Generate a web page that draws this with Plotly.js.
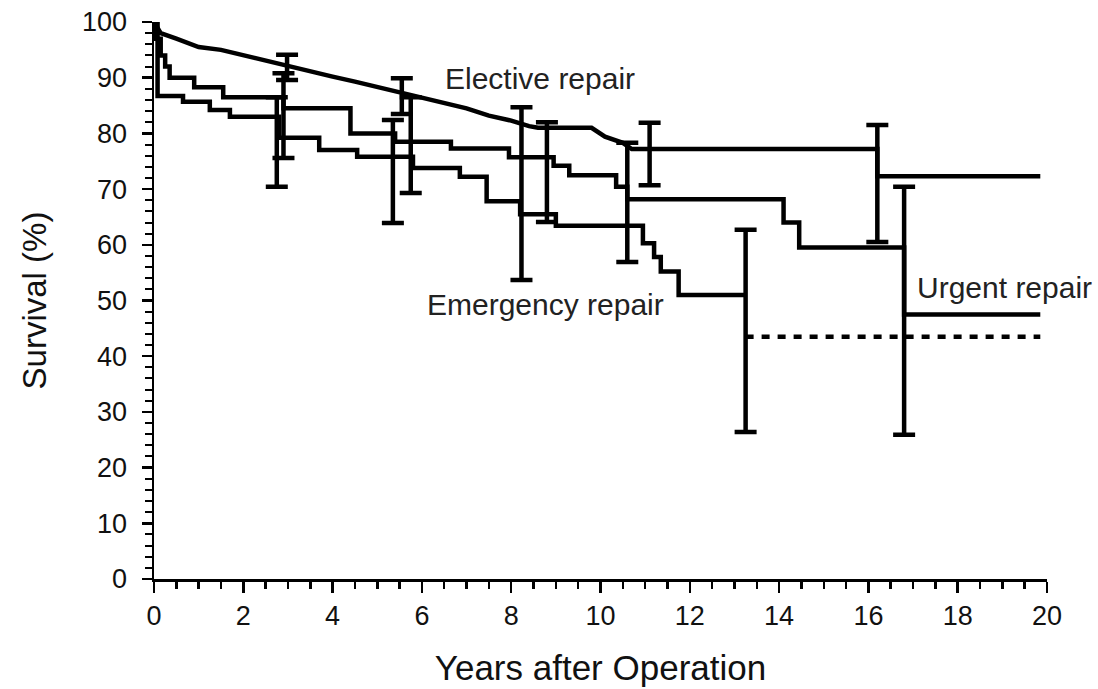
<!DOCTYPE html>
<html>
<head>
<meta charset="utf-8">
<script src="https://cdn.plot.ly/plotly-3.0.1.min.js"></script>
<style>html,body{margin:0;padding:0;background:#fff;}#chart{width:1098px;height:689px;}</style>
</head>
<body>
<div id="chart"></div>
<script>
// Elective repair (fine-grained Kaplan-Meier, drawn as a line through read points)
var electiveX = [0, 0.15, 0.5, 1, 1.5, 2, 2.5, 3, 3.5, 4, 4.5, 5, 5.5, 6, 6.5, 7, 7.5, 8, 8.4, 8.6, 9.8, 10.1, 10.5, 10.7, 16.2, 16.2, 19.85];
var electiveY = [100, 98, 97, 95.5, 95, 94, 93, 92, 91.2, 90.2, 89.3, 88.3, 87.3, 86.4, 85.5, 84.5, 83.2, 82.3, 81.3, 81, 81, 79.4, 78.3, 77.2, 77.2, 72.3, 72.3];

// Urgent repair (step function)
var urgentX = [0, 0.05, 0.15, 0.25, 0.35, 0.9, 1.55, 2.9, 4.4, 5.4, 6.65, 7.95, 8.95, 9.3, 10.35, 10.6, 14.1, 14.45, 16.8, 19.85];
var urgentY = [100, 97, 94, 92, 90, 88.3, 86.5, 84.5, 80, 78.5, 77.3, 75.7, 74.2, 72.5, 70.4, 68.2, 64, 59.5, 47.5, 47.5];

// Emergency repair (step function)
var emergencyX = [0, 0.08, 0.65, 1.25, 1.7, 2.8, 3.7, 4.55, 5.8, 6.85, 7.45, 8.2, 9.0, 10.95, 11.2, 11.35, 11.75, 13.25];
var emergencyY = [100, 86.7, 85.7, 84.2, 83, 79.2, 77, 75.8, 73.8, 72.2, 67.8, 65.5, 63.4, 60.3, 57.8, 55.2, 51, 51];

// Emergency continuation (dotted)
var emergencyTailX = [13.25, 19.85];
var emergencyTailY = [43.5, 43.5];

// Confidence intervals (x, lower, upper)
var ciX  = [2.98, 5.55, 11.1, 16.2, 2.9, 5.75, 8.8, 10.6, 16.8, 2.75, 5.35, 8.23, 13.25];
var ciLo = [89.6, 83.5, 70.7, 60.5, 75.6, 69.3, 64.1, 56.9, 25.9, 70.4, 63.9, 53.7, 26.4];
var ciHi = [94.1, 89.9, 81.9, 81.5, 90.8, 86.5, 82.0, 78.3, 70.4, 86.5, 82.4, 84.7, 62.7];

var xTicks = [0, 2, 4, 6, 8, 10, 12, 14, 16, 18, 20];
var yTicks = [0, 10, 20, 30, 40, 50, 60, 70, 80, 90, 100];

var labelText = ["Elective repair", "Emergency repair", "Urgent repair"];
var labelX = [8.65, 8.76, 19.05];
var labelY = [89.9, 49.2, 52.4];

var ciMid = ciX.map(function(_, i){ return (ciLo[i] + ciHi[i]) / 2; });
var ciHalf = ciX.map(function(_, i){ return (ciHi[i] - ciLo[i]) / 2; });

var lw = 4.5;
var traces = [
  {x: electiveX, y: electiveY, mode: 'lines', line: {color: '#000', width: lw, shape: 'linear'}, cliponaxis: false, hoverinfo: 'skip'},
  {x: urgentX, y: urgentY, mode: 'lines', line: {color: '#000', width: lw, shape: 'hv'}, cliponaxis: false, hoverinfo: 'skip'},
  {x: emergencyX, y: emergencyY, mode: 'lines', line: {color: '#000', width: lw, shape: 'hv'}, cliponaxis: false, hoverinfo: 'skip'},
  {x: emergencyTailX, y: emergencyTailY, mode: 'lines', line: {color: '#000', width: lw, dash: '8px,8px'}, cliponaxis: false, hoverinfo: 'skip'},
  {x: ciX, y: ciMid, mode: 'markers', marker: {size: 1, opacity: 0}, cliponaxis: false, hoverinfo: 'skip',
   error_y: {type: 'data', symmetric: true, array: ciHalf, color: '#000', thickness: 4.5, width: 11}}
];

var tickFont = {family: 'Liberation Sans, Arial, sans-serif', size: 27, color: '#111'};

var layout = {
  width: 1098, height: 689,
  margin: {l: 154, r: 51, t: 22, b: 110, pad: 0},
  paper_bgcolor: '#fff', plot_bgcolor: '#fff',
  showlegend: false,
  xaxis: {
    range: [0, 20], tickvals: xTicks, ticktext: xTicks.map(String),
    showgrid: false, zeroline: false, showline: true, linecolor: '#000', linewidth: 2.5,
    ticks: 'outside', ticklen: 11, tickwidth: 2.5, tickcolor: '#000',
    minor: {dtick: 0.5, tick0: 0, ticks: 'outside', ticklen: 7, tickwidth: 2.5, tickcolor: '#000'},
    tickfont: tickFont, automargin: false, ticklabelstandoff: 0,
    title: {text: 'Years after Operation', font: {family: 'Liberation Sans, Arial, sans-serif', size: 35, color: '#111'}, standoff: 26}
  },
  yaxis: {
    range: [0, 100], tickvals: yTicks, ticktext: yTicks.map(String),
    showgrid: false, zeroline: false, showline: true, linecolor: '#000', linewidth: 2.5,
    ticks: 'outside', ticklen: 10, tickwidth: 2.5, tickcolor: '#000',
    minor: {dtick: 2, tick0: 0, ticks: 'outside', ticklen: 7, tickwidth: 2, tickcolor: '#000'},
    tickfont: tickFont, automargin: false, ticklabelstandoff: 9,
    title: {text: 'Survival (%)', font: {family: 'Liberation Sans, Arial, sans-serif', size: 33, color: '#111'}, standoff: 26}
  },
  annotations: labelText.map(function(t, i){
    return {x: labelX[i], y: labelY[i], xref: 'x', yref: 'y', text: t, showarrow: false,
            xanchor: 'center', yanchor: 'middle',
            font: {family: 'Liberation Sans, Arial, sans-serif', size: 30, color: '#222'}};
  })
};

Plotly.newPlot('chart', traces, layout, {staticPlot: true, displayModeBar: false});
</script>
</body>
</html>
